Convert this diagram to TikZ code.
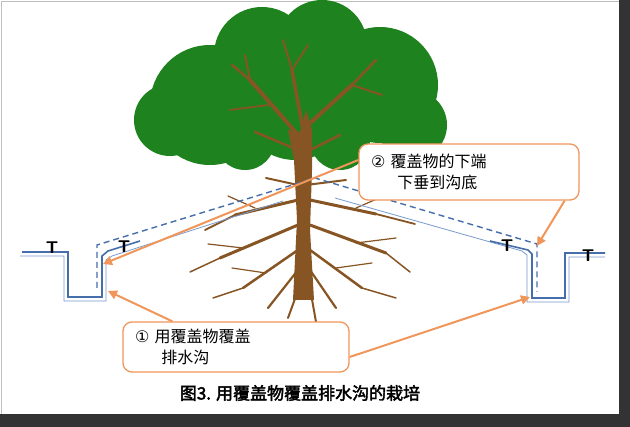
\documentclass[tikz,border=0pt]{standalone}
\usepackage{fontspec}
\newfontfamily\cjk{Noto Sans CJK SC}[AutoFakeBold=2.5]
\newfontfamily\sym{DejaVu Sans}
\usetikzlibrary{arrows.meta}
\definecolor{leaf}{RGB}{30,130,30}
\definecolor{bark}{RGB}{135,85,35}
\definecolor{soil}{RGB}{70,110,170}
\definecolor{soilthin}{RGB}{120,155,205}
\definecolor{callout}{RGB}{240,150,90}
\tikzset{
  thick soil/.style={draw=soil,line width=1.6pt},
  thin soil/.style={draw=soilthin,line width=0.8pt},
  cover/.style={draw=soil,line width=1.4pt,dash pattern=on 6pt off 4pt},
  tmark/.style={font=\sffamily\bfseries\fontsize{17}{17}\selectfont,inner sep=0pt},
  callbox/.style={draw=callout,line width=1.3pt,rounded corners=9pt,fill=white,align=left,font=\cjk\fontsize{16}{21}\selectfont,inner xsep=12pt},
  callarrow/.style={draw=callout,line width=2pt,-{Triangle[length=9pt,width=9pt]}},
  root/.style={draw=bark,line cap=round}
}
\begin{document}
\begin{tikzpicture}[x=1pt,y=-1pt]
\useasboundingbox (0,0) rectangle (630,427);
\fill[white] (0,0) rectangle (630,427);
% frame shadow
\fill[black!80] (619,0) rectangle (630,427);
\fill[black!80] (0,414) rectangle (630,427);
\draw[black!25] (1,1) -- (619,1);
\draw[black!25] (1,1) -- (1,414);
% canopy
\fill[leaf] (210,105) circle (60);
\fill[leaf] (262,55) circle (48);
\fill[leaf] (322,45) circle (45);
\fill[leaf] (380,85) circle (58);
\fill[leaf] (295,105) circle (55);
\fill[leaf] (170,120) circle (36);
\fill[leaf] (412,125) circle (35);
\fill[leaf] (245,140) circle (30);
\fill[leaf] (340,140) circle (30);
% trunk
\fill[bark] (293,300) -- (297,220) -- (294,160) -- (288,130) -- (300,132) -- (306,110) -- (312,130) -- (312,170) -- (310,230) -- (314,300) -- cycle;
\foreach \a/\b/\w in {{(298,135)}/{(250,80)}/4,{(250,80)}/{(232,65)}/2.5,{(250,80)}/{(245,55)}/2,
  {(303,130)}/{(292,70)}/3.5,{(292,70)}/{(283,40)}/2,{(292,70)}/{(308,45)}/1.8,
  {(308,125)}/{(352,85)}/4,{(352,85)}/{(376,60)}/2.5,{(352,85)}/{(382,95)}/2,
  {(298,150)}/{(255,132)}/2.5,{(310,150)}/{(340,135)}/2.5,{(268,105)}/{(230,110)}/1.8}
  \draw[root,line width=\w pt] \a -- \b;
% roots
\foreach \a/\b/\w in {{(298,200)}/{(235,215)}/3,{(235,215)}/{(205,230)}/1.8,{(255,208)}/{(228,196)}/1.2,
  {(298,225)}/{(220,258)}/3,{(220,258)}/{(190,272)}/1.5,{(243,248)}/{(208,244)}/1.2,
  {(298,250)}/{(243,288)}/2.5,{(243,288)}/{(213,298)}/1.5,{(266,273)}/{(232,268)}/1.2,
  {(298,270)}/{(268,308)}/2.2,{(300,285)}/{(288,318)}/2,
  {(310,200)}/{(376,214)}/3,{(376,214)}/{(415,224)}/1.8,{(356,208)}/{(386,195)}/1.2,
  {(310,225)}/{(386,253)}/3,{(386,253)}/{(410,272)}/1.5,{(356,243)}/{(396,238)}/1.2,
  {(310,250)}/{(362,288)}/2.5,{(362,288)}/{(396,298)}/1.5,{(336,268)}/{(372,263)}/1.2,
  {(310,270)}/{(336,308)}/2.2,{(310,288)}/{(316,322)}/2,
  {(306,185)}/{(346,180)}/2,{(298,185)}/{(266,178)}/2}
  \draw[root,line width=\w pt] \a -- \b;
% left trench
\draw[thin soil] (20,256) -- (64,256) -- (64,301) -- (106,301) -- (106,260) -- (112,256) -- (283,201);
\draw[thick soil] (22,252) -- (68,252) -- (68,297) -- (102,297) -- (102,256) -- (108,251) -- (140,241);
% right trench
\draw[thin soil] (335,198) -- (522,251) -- (527,255) -- (527,302) -- (569,302) -- (569,257) -- (605,257);
\draw[thick soil] (490,241) -- (528,250) -- (532,254) -- (532,298) -- (565,298) -- (565,253) -- (605,253);
% cover
\draw[cover] (97,288) -- (97,245) -- (315,178) -- (537,244) -- (537,292);
% T marks
\node[tmark] (t1) at (52,248) {T};
\node[tmark] (t2) at (124,247) {T};
\node[tmark] (t3) at (507,246) {T};
\node[tmark] (t4) at (588,256) {T};
% callouts
\node[callbox,text width=196pt,minimum height=56pt] (b2) at (469,172) {{\sym ②}\ 覆盖物的下端\\\hspace{1.65em}下垂到沟底};
\node[callbox,text width=202pt,minimum height=50pt] (b1) at (236,347) {{\sym ①}\ 用覆盖物覆盖\\\hspace{1.65em}排水沟};
\coordinate (c1) at (103,264);
\coordinate (c2) at (537,246);
\coordinate (c3) at (108,291);
\coordinate (c4) at (530,297);
\draw[callarrow] ([yshift=12pt]b2.west) -- (c1);
\draw[callarrow] ([xshift=-15pt]b2.south east) -- (c2);
\draw[callarrow] ([xshift=50pt]b1.north west) -- (c3);
\draw[callarrow] ([yshift=-10pt]b1.east) -- (c4);
% caption
\node[font=\cjk\bfseries\fontsize{17}{20}\selectfont] (cap) at (300,393) {图3. 用覆盖物覆盖排水沟的栽培};
\end{tikzpicture}
\end{document}
